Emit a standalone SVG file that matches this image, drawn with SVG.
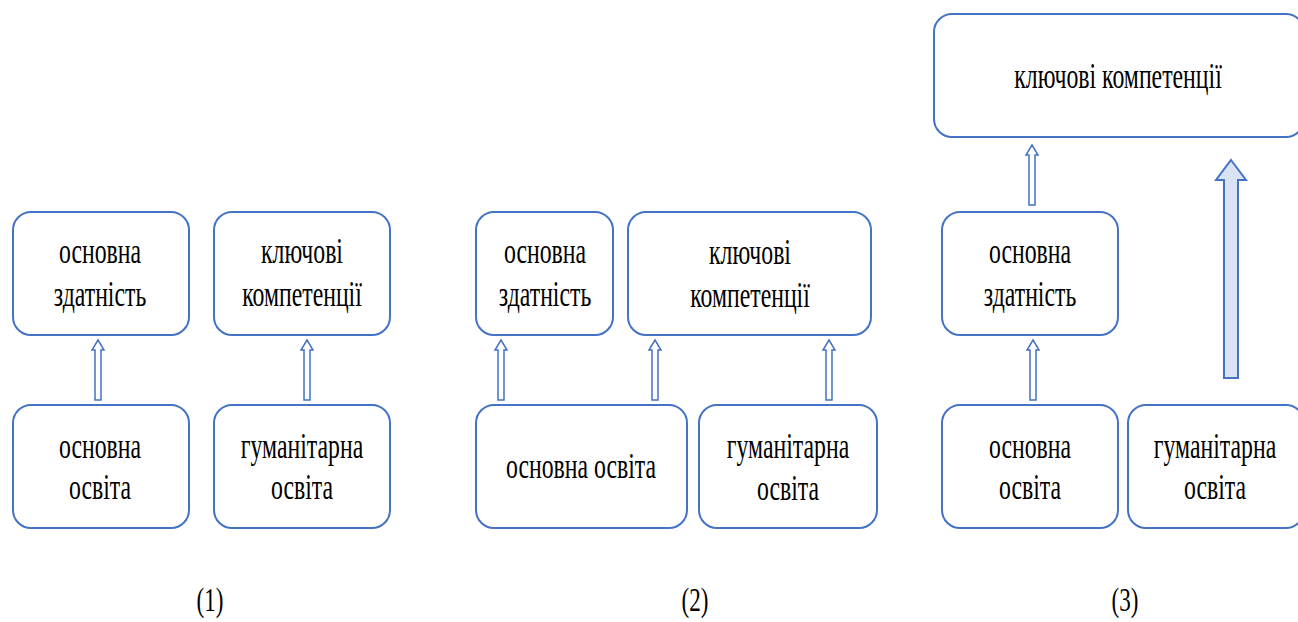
<svg xmlns="http://www.w3.org/2000/svg" width="1298" height="622" viewBox="0 0 1298 622">
<style>
.box{fill:#fff;stroke:#4472c4;stroke-width:2}
.arr{fill:#fff;stroke:#4472c4;stroke-width:1.5}
.big{fill:#dae3f3;stroke:#4472c4;stroke-width:2}
.t{font-family:'Liberation Serif','DejaVu Serif',serif;font-size:36px;fill:#000;text-anchor:middle}
</style>
<rect width="1298" height="622" fill="#fff"/>
<g id="p1-zdat"><rect class="box" x="13" y="212" width="176" height="123" rx="18"/>
<text class="t" transform="translate(100,263) scale(0.66,1)">основна</text><text class="t" transform="translate(100,306) scale(0.66,1)">здатність</text></g>
<g id="p1-komp"><rect class="box" x="214" y="212" width="176" height="123" rx="18"/>
<text class="t" transform="translate(302,263) scale(0.66,1)">ключові</text><text class="t" transform="translate(302,306) scale(0.66,1)">компетенції</text></g>
<g id="p1-osv"><rect class="box" x="13" y="405" width="176" height="123" rx="18"/>
<text class="t" transform="translate(100,458) scale(0.66,1)">основна</text><text class="t" transform="translate(100,499) scale(0.66,1)">освіта</text></g>
<g id="p1-hum"><rect class="box" x="214" y="405" width="176" height="123" rx="18"/>
<text class="t" transform="translate(302,458) scale(0.66,1)">гуманітарна</text><text class="t" transform="translate(302,499) scale(0.66,1)">освіта</text></g>

<g id="p2-zdat"><rect class="box" x="476" y="212" width="137" height="123" rx="18"/>
<text class="t" transform="translate(545,263) scale(0.66,1)">основна</text><text class="t" transform="translate(545,306) scale(0.66,1)">здатність</text></g>
<g id="p2-komp"><rect class="box" x="628" y="212" width="243" height="123" rx="18"/>
<text class="t" transform="translate(750,264) scale(0.66,1)">ключові</text><text class="t" transform="translate(750,307) scale(0.66,1)">компетенції</text></g>
<g id="p2-osv"><rect class="box" x="476" y="405" width="211" height="123" rx="18"/>
<text class="t" transform="translate(581,478) scale(0.66,1)">основна освіта</text></g>
<g id="p2-hum"><rect class="box" x="699" y="405" width="178" height="123" rx="18"/>
<text class="t" transform="translate(788,458) scale(0.66,1)">гуманітарна</text><text class="t" transform="translate(788,500) scale(0.66,1)">освіта</text></g>

<g id="p3-komp"><rect class="box" x="934" y="14" width="370" height="123" rx="18"/>
<text class="t" transform="translate(1118,88) scale(0.66,1)">ключові компетенції</text></g>
<g id="p3-zdat"><rect class="box" x="942" y="212" width="176" height="123" rx="18"/>
<text class="t" transform="translate(1030,263) scale(0.66,1)">основна</text><text class="t" transform="translate(1030,306) scale(0.66,1)">здатність</text></g>
<g id="p3-osv"><rect class="box" x="942" y="405" width="176" height="123" rx="18"/>
<text class="t" transform="translate(1030,458) scale(0.66,1)">основна</text><text class="t" transform="translate(1030,499) scale(0.66,1)">освіта</text></g>
<g id="p3-hum"><rect class="box" x="1128" y="405" width="176" height="123" rx="18"/>
<text class="t" transform="translate(1215,458) scale(0.66,1)">гуманітарна</text><text class="t" transform="translate(1215,499) scale(0.66,1)">освіта</text></g>

<g id="connectors">
<path class="arr" d="M98,340 L104,350 L101,350 L101,400 L95,400 L95,350 L92,350 Z"/>
<path class="arr" d="M307,340 L313,350 L310,350 L310,400 L304,400 L304,350 L301,350 Z"/>
<path class="arr" d="M501,340 L507,350 L504,350 L504,400 L498,400 L498,350 L495,350 Z"/>
<path class="arr" d="M655,340 L661,350 L658,350 L658,400 L652,400 L652,350 L649,350 Z"/>
<path class="arr" d="M829,340 L835,350 L832,350 L832,400 L826,400 L826,350 L823,350 Z"/>
<path class="arr" d="M1032,145 L1038,155 L1035,155 L1035,205 L1029,205 L1029,155 L1026,155 Z"/>
<path class="arr" d="M1033,340 L1039,350 L1036,350 L1036,400 L1030,400 L1030,350 L1027,350 Z"/>
<path class="big" d="M1231,160 L1246,180 L1238,180 L1238,378 L1224,378 L1224,180 L1216,180 Z"/>
</g>
<g id="labels">
<text class="t" transform="translate(210,611) scale(0.7,1)" style="font-size:33px">(1)</text>
<text class="t" transform="translate(695,611) scale(0.7,1)" style="font-size:33px">(2)</text>
<text class="t" transform="translate(1125,611) scale(0.7,1)" style="font-size:33px">(3)</text>
</g>
</svg>
